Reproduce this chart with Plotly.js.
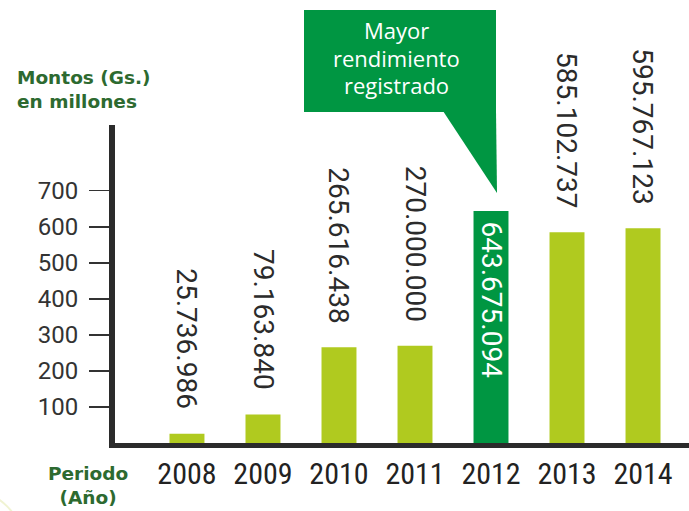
<!DOCTYPE html>
<html>
<head>
<meta charset="utf-8">
<script src="https://cdn.plot.ly/plotly-3.0.1.min.js"></script>
<style>
html,body{margin:0;padding:0;background:#fff;}
#chart{width:689px;height:511px;}
</style>
</head>
<body>
<div id="chart"></div>
<script>
// Data (montos en millones de Gs.)
const years = ['2008','2009','2010','2011','2012','2013','2014'];
const montos = [25.736986, 79.163840, 265.616438, 270.000000, 643.675094, 585.102737, 595.767123];
const etiquetas = ['25.736.986','79.163.840','265.616.438','270.000.000','643.675.094','585.102.737','595.767.123'];
const yTicks = [100, 200, 300, 400, 500, 600, 700];
const yTickText = ['100', '200', '300', '400', '500', '600', '700'];
const calloutLines = ['Mayor', 'rendimiento', 'registrado'];

const LIGHT = '#b0ca1f';
const DARK = '#009642';
const TITLEGREEN = '#2d6a30';
const maxIdx = montos.indexOf(Math.max(...montos));
const colors = montos.map((v, i) => i === maxIdx ? DARK : LIGHT);

// plot area in px
const L = 115, R = 689, B = 443, T = 125;
const W = R - L, H = B - T;
const px = x => (x - L) / W;
const py = y => (B - y) / H;
const PX_PER_UNIT = 0.3604;

const annotations = [];
montos.forEach((v, i) => {
  const inside = i === maxIdx;
  annotations.push({
    x: i, y: v, xref: 'x', yref: 'y',
    text: etiquetas[i], showarrow: false, textangle: 90,
    xanchor: 'center', yanchor: inside ? 'top' : 'bottom',
    yshift: inside ? -8 : 22,
    font: {family: 'Roboto, sans-serif', size: 28, color: inside ? '#ffffff' : '#2b2b2b'}
  });
});
calloutLines.forEach((t, k) => {
  annotations.push({
    xref: 'paper', yref: 'paper', x: px(396), y: py(30 + k * 27.5),
    xanchor: 'center', yanchor: 'middle', showarrow: false,
    text: t, align: 'center',
    font: {family: '"Open Sans", sans-serif', size: 22, color: '#ffffff'}
  });
});
annotations.push({
  xref: 'paper', yref: 'paper', x: px(15), y: py(89),
  xanchor: 'left', yanchor: 'middle', showarrow: false, align: 'left',
  text: '<b>Montos (Gs.)</b><br><b>en millones</b>',
  font: {family: '"DejaVu Sans", sans-serif', size: 18.5, color: TITLEGREEN}
});
annotations.push({
  xref: 'paper', yref: 'paper', x: px(88), y: py(485),
  xanchor: 'center', yanchor: 'middle', showarrow: false, align: 'center',
  text: '<b>Periodo</b><br><b>(Año)</b>',
  font: {family: '"DejaVu Sans", sans-serif', size: 18.5, color: TITLEGREEN}
});

const shapes = [
  {type: 'rect', xref: 'paper', yref: 'paper', x0: px(304), x1: px(496), y0: py(112), y1: py(10),
   fillcolor: DARK, line: {width: 0}, layer: 'above'},
  {type: 'path', xref: 'paper', yref: 'paper', layer: 'above',
   path: `M ${px(443)} ${py(111)} L ${px(496)} ${py(111)} L ${px(497)} ${py(193)} Z`,
   fillcolor: DARK, line: {width: 0}},
  {type: 'circle', xref: 'paper', yref: 'paper', layer: 'below',
   x0: px(-87), x1: px(23), y0: py(600), y1: py(490),
   line: {color: '#f0f3d2', width: 2}, fillcolor: 'rgba(0,0,0,0)'}
];

const trace = {
  type: 'bar', x: years, y: montos, width: 0.46,
  marker: {color: colors, line: {width: 0}},
  hoverinfo: 'x+y', cliponaxis: false
};

const layout = {
  width: 689, height: 511,
  margin: {l: L, r: 689 - R, t: T, b: 511 - B, pad: 0},
  paper_bgcolor: '#ffffff', plot_bgcolor: '#ffffff',
  showlegend: false,
  xaxis: {
    type: 'category', range: [-0.947, 6.605], fixedrange: true,
    showline: true, linewidth: 5, linecolor: '#2b2b2b',
    showgrid: false, zeroline: false, ticks: '',
    tickfont: {family: '"Liberation Sans Narrow", "Roboto Condensed", Roboto, sans-serif', size: 30, color: '#222222'},
    ticklabelstandoff: 0
  },
  yaxis: {
    range: [0, H / PX_PER_UNIT], fixedrange: true,
    tickvals: yTicks, ticktext: yTickText,
    ticks: 'outside', ticklen: 20, tickwidth: 1.5, tickcolor: '#333333',
    showline: true, linewidth: 6, linecolor: '#2b2b2b',
    showgrid: false, zeroline: false,
    tickfont: {family: 'Roboto, sans-serif', size: 24, color: '#333333'},
    ticklabelstandoff: 6
  },
  annotations: annotations,
  shapes: shapes
};

Plotly.newPlot('chart', [trace], layout, {displayModeBar: false, staticPlot: true});
</script>
</body>
</html>
